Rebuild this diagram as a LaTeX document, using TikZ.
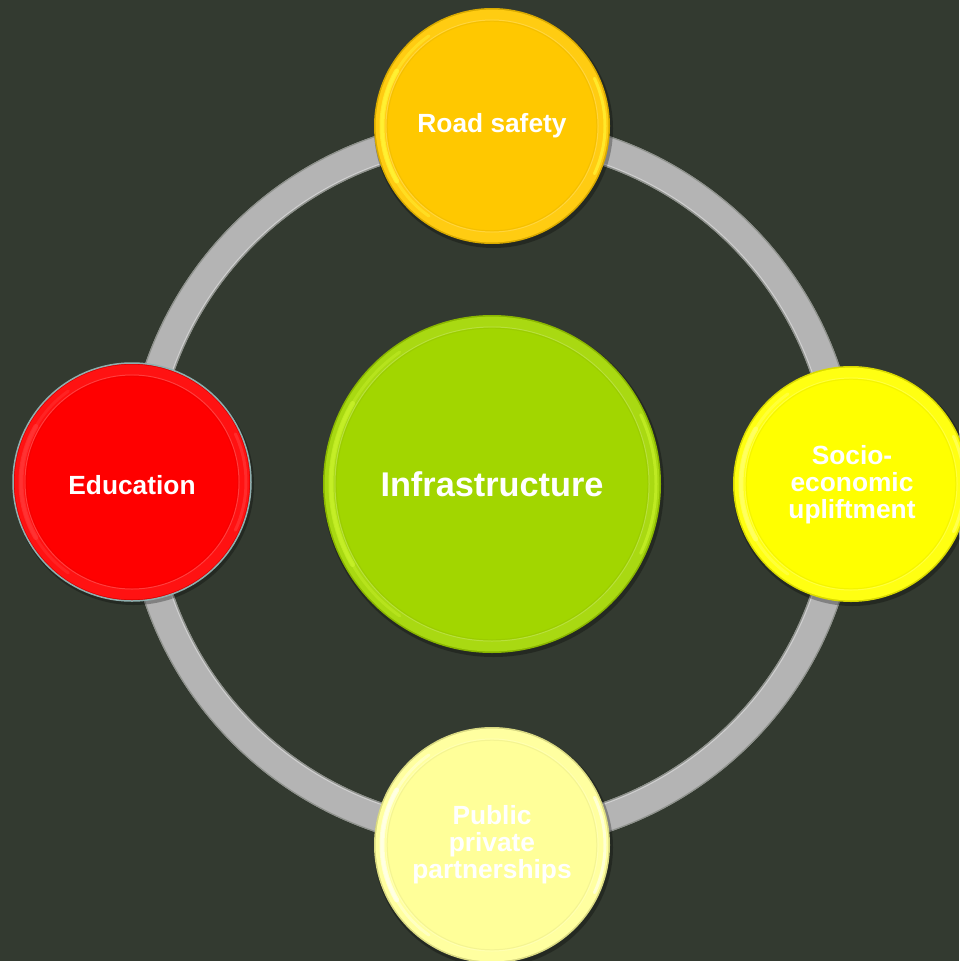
\documentclass[tikz,border=0pt]{standalone}
\usepackage{fontspec}
\setmainfont{Liberation Sans}
\definecolor{bg}{HTML}{333A30}
\definecolor{ringgray}{HTML}{B4B4B4}
\definecolor{ringedge}{HTML}{8E918C}
\definecolor{cgold}{HTML}{FFC800}
\definecolor{cyel}{HTML}{FFFF00}
\definecolor{cpale}{HTML}{FFFF99}
\definecolor{cred}{HTML}{FF0000}
\definecolor{cgreen}{HTML}{A2D600}
\definecolor{redline}{HTML}{8FAFAF}
\definecolor{hlgold}{HTML}{FFFF40}
\definecolor{hlgreen}{HTML}{D0F830}
\tikzset{
  bubble/.style={circle, inner sep=0pt, draw=none},
  bubbletext/.style={inner sep=0pt, align=center, text=white,
    font=\bfseries\fontsize{26.3}{27}\selectfont},
  bigtext/.style={bubbletext, font=\bfseries\fontsize{34.3}{36}\selectfont},
  glow/.style={line cap=round, opacity=0.55},
}
% #1 name, #2 x, #3 y, #4 radius, #5 colour, #6 highlight colour
\newcommand\mybubble[6]{%
  \fill[black,opacity=0.28] (#2+1.5,#3+2.5) circle ({#4+1.5});
  \node[bubble, minimum size={2*#4}, fill=#5!85!black] (#1) at (#2,#3) {};
  \fill[#5!93!white] (#1.center) circle ({#4-1.6});
  \draw[#6, glow, line width=5pt] (#1.center) ++(150:{#4-8}) arc (150:210:{#4-8});
  \draw[#6, glow, line width=3pt, opacity=0.35] (#1.center) ++(125:{#4-8}) arc (125:235:{#4-8});
  \draw[#6, glow, line width=3pt] (#1.center) ++(-25:{#4-5}) arc (-25:25:{#4-5});
  \fill[#5] (#1.center) circle ({#4-12});
  \draw[white, opacity=0.22, line width=1pt] (#1.center) circle ({#4-12});
  \draw[#5!88!black, opacity=0.35, line width=1pt] (#1.center) circle ({#4-13.2});
}
\begin{document}
\begin{tikzpicture}[x=1pt,y=-1pt]
  \fill[bg] (0,0) rectangle (959,961);
  \useasboundingbox (0,0) rectangle (959,961);
  \coordinate (hub) at (492,484);
  % ring
  \draw[ringgray, line width=30pt] (hub) circle (352);
  \draw[ringedge, line width=1.2pt] (hub) circle (337.5);
  \draw[ringedge, line width=1.2pt] (hub) circle (366.5);
  \draw[ringgray!60!white, line width=0.8pt] (hub) circle (339);
  % bubbles
  \mybubble{road}{492}{126}{118}{cgold}{hlgold}
  \mybubble{socio}{851}{484}{118}{cyel}{cyel!50!white}
  \mybubble{ppp}{492}{845}{118}{cpale}{white}
  \mybubble{edu}{132}{482}{119}{cred}{cred!75!white}
  \draw[redline, line width=1.5pt] (edu.center) circle (119);
  \mybubble{infra}{492}{484}{169}{cgreen}{hlgreen}
  % labels
  \node[bubbletext] (roadt) at (492,126) {Road safety};
  \node[bubbletext] (sociot) at (852,485) {Socio-\\economic\\upliftment};
  \node[bubbletext] (pppt) at (492,845) {Public\\private\\partnerships};
  \node[bubbletext] (edut) at (132,485) {Education};
  \node[bigtext] (infrat) at (492,484) {Infrastructure};
\end{tikzpicture}
\end{document}
